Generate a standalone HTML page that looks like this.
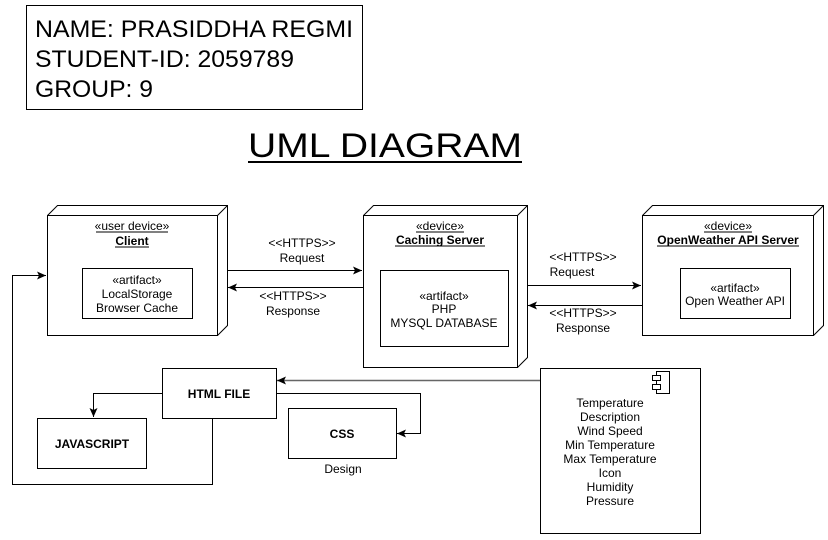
<!DOCTYPE html>
<html><head><meta charset="utf-8"><style>
html,body{margin:0;padding:0;background:#fff;}
svg{display:block;font-family:"Liberation Sans",Arial,sans-serif;}
</style></head><body>
<svg width="828" height="540" viewBox="0 0 828 540" xmlns="http://www.w3.org/2000/svg">
<defs>
<marker id="ah" markerWidth="10" markerHeight="10" refX="9" refY="5" orient="auto" markerUnits="userSpaceOnUse">
<path d="M0,1 L9,5 L0,9 L2,5 Z" fill="#000"/>
</marker>
</defs>
<rect x="0" y="0" width="828" height="540" fill="#fff"/>
<!-- name box -->
<rect x="26.5" y="5.5" width="336" height="104" fill="#fff" stroke="#000"/>
<g font-size="24" fill="#000">
<text x="35" y="37" textLength="318" lengthAdjust="spacingAndGlyphs">NAME: PRASIDDHA REGMI</text>
<text x="35" y="67" textLength="259" lengthAdjust="spacingAndGlyphs">STUDENT-ID: 2059789</text>
<text x="35" y="97" textLength="118" lengthAdjust="spacingAndGlyphs">GROUP: 9</text>
</g>
<text x="248" y="157" font-size="34" textLength="274" lengthAdjust="spacingAndGlyphs">UML DIAGRAM</text>
<line x1="248" y1="162" x2="522" y2="162" stroke="#000" stroke-width="2"/>

<g stroke="#000" fill="#fff">
<!-- Client -->
<path d="M47.5,215.5 L57.5,205.5 L227.5,205.5 L227.5,325.5 L217.5,335.5 M217.5,215.5 L227.5,205.5"/>
<rect x="47.5" y="215.5" width="170" height="120"/>
<rect x="82.5" y="268.5" width="110" height="50"/>
<!-- Caching -->
<path d="M363.5,215.5 L373.5,205.5 L527.5,205.5 L527.5,357.5 L517.5,367.5 M517.5,215.5 L527.5,205.5"/>
<rect x="363.5" y="215.5" width="154" height="152"/>
<rect x="380.5" y="270.5" width="128" height="76"/>
<!-- OpenWeather -->
<path d="M642.5,215.5 L652.5,205.5 L823.5,205.5 L823.5,325.5 L813.5,335.5 M813.5,215.5 L823.5,205.5"/>
<rect x="642.5" y="215.5" width="171" height="120"/>
<rect x="680.5" y="268.5" width="110" height="50"/>
<!-- lower boxes -->
<rect x="162.5" y="368.5" width="114" height="50"/>
<rect x="37.5" y="418.5" width="109" height="50"/>
<rect x="288.5" y="408.5" width="108" height="50"/>
<rect x="540.5" y="368.5" width="160" height="165"/>
<rect x="656.5" y="371.5" width="13" height="22"/>
<rect x="652.5" y="375.5" width="8" height="5"/>
<rect x="652.5" y="384.5" width="8" height="5"/>
</g>

<g font-size="12" text-anchor="middle" fill="#000">
<text x="132" y="230">«user device»</text>
<line x1="96" y1="232" x2="168" y2="232" stroke="#000"/>
<text x="132" y="245" font-weight="bold">Client</text>
<line x1="115" y1="247" x2="149" y2="247" stroke="#000"/>
<text x="137" y="284">«artifact»</text>
<text x="137" y="298">LocalStorage</text>
<text x="137" y="312">Browser Cache</text>

<text x="440" y="230">«device»</text>
<line x1="416" y1="232" x2="464" y2="232" stroke="#000"/>
<text x="440" y="244" font-weight="bold">Caching Server</text>
<line x1="395" y1="246" x2="485" y2="246" stroke="#000"/>
<text x="444" y="300">«artifact»</text>
<text x="444" y="313">PHP</text>
<text x="444" y="327">MYSQL DATABASE</text>

<text x="728" y="230">«device»</text>
<line x1="704" y1="232" x2="752" y2="232" stroke="#000"/>
<text x="728" y="244" font-weight="bold">OpenWeather API Server</text>
<line x1="657" y1="246" x2="799" y2="246" stroke="#000"/>
<text x="735" y="292">«artifact»</text>
<text x="735" y="305">Open Weather API</text>

<text x="302" y="247">&lt;&lt;HTTPS&gt;&gt;</text>
<text x="302" y="262">Request</text>
<text x="293" y="300">&lt;&lt;HTTPS&gt;&gt;</text>
<text x="293" y="315">Response</text>
<text x="583" y="261">&lt;&lt;HTTPS&gt;&gt;</text>
<text x="572" y="276">Request</text>
<text x="583" y="317">&lt;&lt;HTTPS&gt;&gt;</text>
<text x="583" y="332">Response</text>

<text x="219" y="398" font-weight="bold">HTML FILE</text>
<text x="92" y="448" font-weight="bold">JAVASCRIPT</text>
<text x="342" y="438" font-weight="bold">CSS</text>
<text x="343" y="473">Design</text>

<text x="610" y="407">Temperature</text>
<text x="610" y="421">Description</text>
<text x="610" y="435">Wind Speed</text>
<text x="610" y="449">Min Temperature</text>
<text x="610" y="463">Max Temperature</text>
<text x="610" y="477">Icon</text>
<text x="610" y="491">Humidity</text>
<text x="610" y="505">Pressure</text>
</g>

<g stroke="#000" fill="none">
<line x1="227" y1="270.5" x2="362" y2="270.5" marker-end="url(#ah)"/>
<line x1="363" y1="287.5" x2="228" y2="287.5" marker-end="url(#ah)"/>
<line x1="527" y1="285.5" x2="641" y2="285.5" marker-end="url(#ah)"/>
<line x1="642" y1="305.5" x2="528" y2="305.5" marker-end="url(#ah)"/>
<line x1="540" y1="380.5" x2="277" y2="380.5" stroke="#666" stroke-width="1.5" marker-end="url(#ah)"/>
<path d="M162,393.5 H93.5 V417" marker-end="url(#ah)"/>
<path d="M276,393.5 H420.5 V433.5 H397" marker-end="url(#ah)"/>
<path d="M212.5,418 V484.5 H12.5 V275.5 H46" marker-end="url(#ah)"/>
</g>
</svg>
</body></html>
